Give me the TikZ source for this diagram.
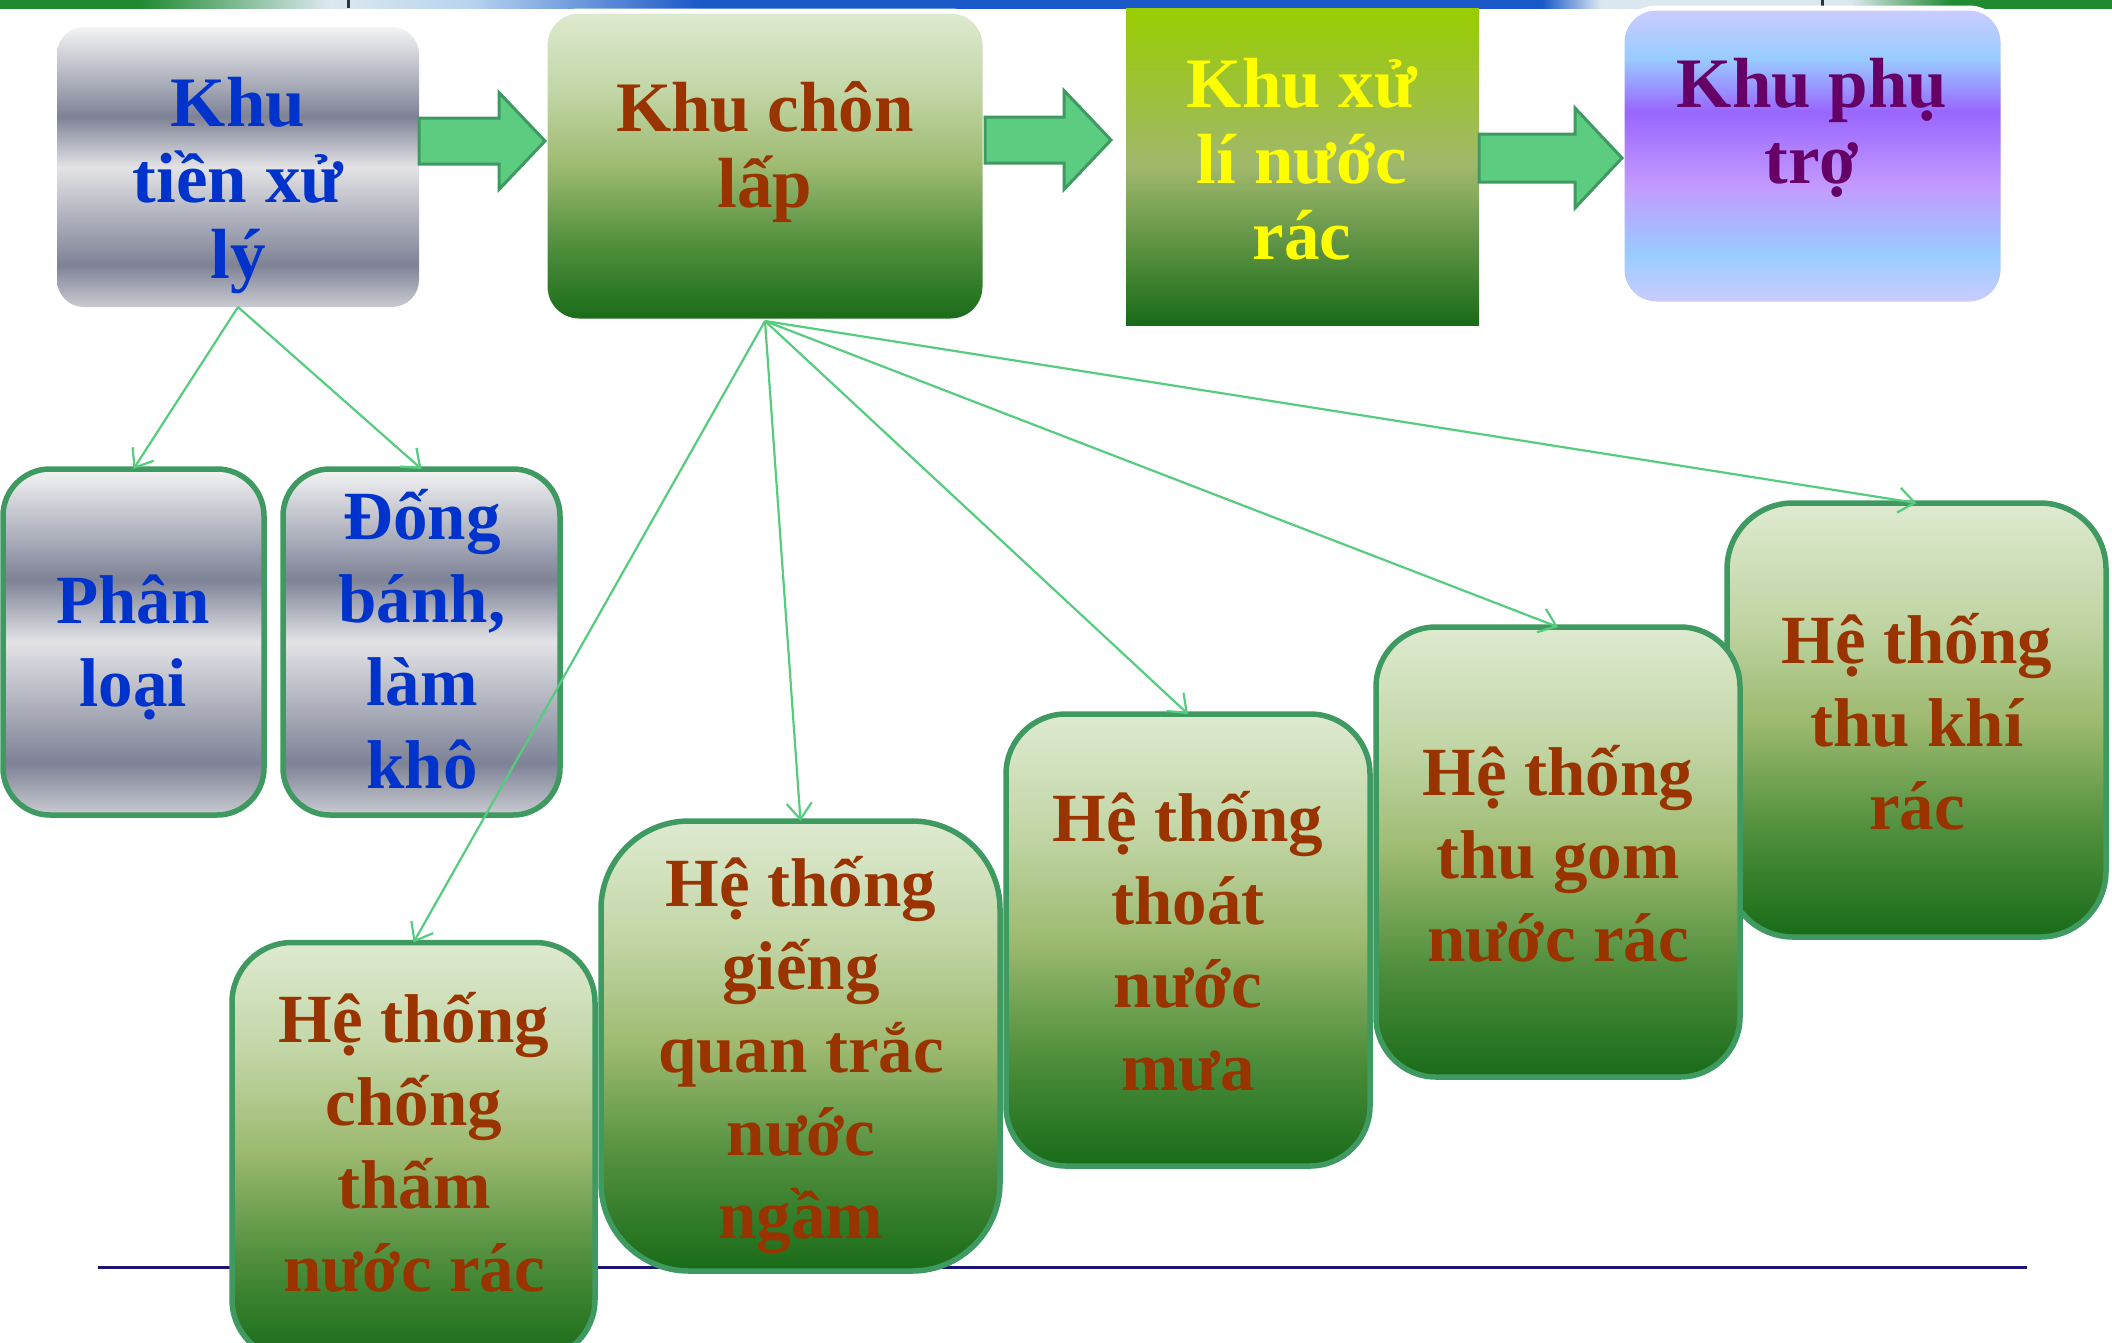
\documentclass[tikz,border=0pt]{standalone}
\usepackage{fontspec}
\setmainfont{Liberation Serif}
\usetikzlibrary{arrows.meta,calc}

% text colours
\definecolor{txtblue}{HTML}{0033CC}
\definecolor{txtbrown}{HTML}{993300}
\definecolor{txtyellow}{HTML}{FFFF00}
\definecolor{txtpurple}{HTML}{660066}
% lines and arrows
\definecolor{edgegreen}{HTML}{3F9A62}
\definecolor{flowfill}{HTML}{5BCC80}
\definecolor{linkgreen}{HTML}{55CC7E}
\definecolor{rulenavy}{HTML}{1C1470}
% brushed metal
\definecolor{mT}{HTML}{F4F4F5}
\definecolor{mD}{HTML}{7E8296}
\definecolor{mL}{HTML}{E3E3E6}
\definecolor{mB}{HTML}{CACBD1}
% leaf green
\definecolor{gT}{HTML}{DEEAD0}
\definecolor{gU}{HTML}{C2D6A6}
\definecolor{gM}{HTML}{9DBA70}
\definecolor{gL}{HTML}{4E8E3C}
\definecolor{gB}{HTML}{186B18}
% lime
\definecolor{lT}{HTML}{99CC00}
\definecolor{lM}{HTML}{A0B86C}
% violet
\definecolor{vT}{HTML}{CCCCFF}
\definecolor{vS}{HTML}{99CCFF}
\definecolor{vP}{HTML}{9966FF}
\definecolor{vL}{HTML}{C499FF}
% header band
\definecolor{hbG}{HTML}{1F8A30}
\definecolor{hbW}{HTML}{DCE8F0}
\definecolor{hbS}{HTML}{B8D4EF}
\definecolor{hbB}{HTML}{1A58C8}

\pgfdeclareverticalshading{metal}{100bp}{color(0bp)=(mB); color(25bp)=(mB); color(32.5bp)=(mD); color(50bp)=(mL); color(59bp)=(mD); color(75bp)=(mT); color(100bp)=(mT)}
\pgfdeclareverticalshading{leaf}{100bp}{color(0bp)=(gB); color(25bp)=(gB); color(37bp)=(gL); color(50bp)=(gM); color(62bp)=(gU); color(75bp)=(gT); color(100bp)=(gT)}
\pgfdeclareverticalshading{lime}{100bp}{color(0bp)=(gB); color(25bp)=(gB); color(50bp)=(lM); color(75bp)=(lT); color(100bp)=(lT)}
\pgfdeclareverticalshading{violet}{100bp}{color(0bp)=(vT); color(25bp)=(vT); color(33.5bp)=(vS); color(45bp)=(vL); color(57.5bp)=(vP); color(66.5bp)=(vS); color(75bp)=(vT); color(100bp)=(vT)}
\pgfdeclarehorizontalshading{headband}{100bp}{color(0bp)=(hbG); color(28.3bp)=(hbG); color(32.8bp)=(hbW); color(36.1bp)=(hbS); color(41.6bp)=(hbB); color(61.5bp)=(hbB); color(62.9bp)=(hbW); color(68.8bp)=(hbW); color(71.2bp)=(hbG); color(100bp)=(hbG)}

\tikzset{
  zone/.style={shape=rectangle, inner sep=0pt, outer sep=0pt, shade},
  tile/.style={zone, draw=edgegreen, line width=5.5pt},
  toptext/.style={font=\fontsize{71}{76}\selectfont\bfseries, align=center, inner sep=0pt, anchor=north},
  lowtext/.style={font=\fontsize{69}{83}\selectfont\bfseries, align=center, inner sep=0pt, anchor=north},
  flow/.style={fill=flowfill, draw=edgegreen, line width=3pt, line join=miter},
  link/.style={draw=linkgreen, line width=2.2pt, -{Straight Barb[length=16pt,width=25pt]}},
}

% block arrow: tail point, tip point, head length, half body, half head
\newcommand\blockarrow[5]{%
  \draw[flow] ($(#1)+(0,-#4)$) -- ($(#2)+(-#3,-#4)$) -- ($(#2)+(-#3,-#5)$) -- (#2)
    -- ($(#2)+(-#3,#5)$) -- ($(#2)+(-#3,#4)$) -- ($(#1)+(0,#4)$) -- cycle;}

\begin{document}
\lineskiplimit=-1000pt
\begin{tikzpicture}[x=1pt,y=-1pt]
\useasboundingbox (0,0) rectangle (2112,1342);
\clip (0,0) rectangle (2112,1342);
\fill[white] (0,0) rectangle (2112,1342);

% header band
\shade[shading=headband] (0,0) rectangle (2112,8);
\fill[black!80] (347,0) rectangle (350,8);
\fill[black!80] (1821,0) rectangle (1824,8);

% rule across the lower part
\draw[rulenavy, line width=3pt] (98,1267) -- (2027,1267);

% top row
\node[zone, shading=metal, rounded corners=27pt, minimum width=362pt, minimum height=280pt] (b1) at (238,167) {};
\node[zone, shading=leaf, draw=white, line width=5pt, rounded corners=34pt, minimum width=440pt, minimum height=310pt] (b2) at (765,166) {};
\node[zone, shading=lime, minimum width=353pt, minimum height=317pt] (b3) at (1302.5,166.5) {};
\node[zone, shading=violet, draw=white, line width=5pt, rounded corners=34pt, minimum width=381pt, minimum height=296pt] (b4) at (1812.5,156) {};

\node[toptext, text=txtblue] (b1t) at (238,51) {\rule{0pt}{75pt}Khu\\tiền xử\\lý};
\node[toptext, text=txtbrown] (b2t) at (765,56) {\rule{0pt}{75pt}Khu chôn\\lấp};
\node[toptext, text=txtyellow] (b3t) at (1302,32) {\rule{0pt}{75pt}Khu xử\\lí nước\\rác};
\node[toptext, text=txtpurple] (b4t) at (1812,32) {\rule{0pt}{75pt}Khu phụ\\trợ};

% flow arrows between the zones
\coordinate (ax1) at (0,141);
\coordinate (ax2) at (0,140);
\coordinate (ax3) at (0,158);
\coordinate (tip2) at ($(b3.west |- ax2)+(-15,0)$);
\blockarrow{b1.east |- ax1}{b2.west |- ax1}{46}{23}{48.5}
\blockarrow{b2.east |- ax2}{tip2}{47}{23}{49.5}
\blockarrow{b3.east |- ax3}{b4.west |- ax3}{47}{24}{50}

% pre-treatment steps
\node[tile, shading=metal, rounded corners=47pt, minimum width=261pt, minimum height=346pt] (pl) at (133.5,642) {};
\node[tile, shading=metal, rounded corners=47pt, minimum width=277pt, minimum height=346pt] (db) at (421.5,642) {};
\node[lowtext, text=txtblue] (plt) at (133,548) {\rule{0pt}{75pt}Phân\\loại};
\node[lowtext, text=txtblue] (dbt) at (422,464) {\rule{0pt}{75pt}Đống\\bánh,\\làm\\khô};

% landfill systems
\node[tile, shading=leaf, rounded corners=66pt, minimum width=379pt, minimum height=434pt] (s5) at (1916.5,720) {};
\node[tile, shading=leaf, rounded corners=60pt, minimum width=364pt, minimum height=450pt] (s4) at (1558,852) {};
\node[tile, shading=leaf, rounded corners=60pt, minimum width=364pt, minimum height=452pt] (s3) at (1188,940) {};
\node[tile, shading=leaf, rounded corners=88pt, minimum width=399pt, minimum height=450pt] (s2) at (800.5,1046) {};
\node[tile, shading=leaf, rounded corners=60pt, minimum width=363pt, minimum height=417pt] (s1) at (413.5,1151) {};

\node[lowtext, text=txtbrown] (s1t) at (414,967) {\rule{0pt}{75pt}Hệ thống\\chống\\thấm\\nước rác};
\node[lowtext, text=txtbrown] (s2t) at (801,831) {\rule{0pt}{75pt}Hệ thống\\giếng\\quan trắc\\nước\\ngầm};
\node[lowtext, text=txtbrown] (s3t) at (1188,766) {\rule{0pt}{75pt}Hệ thống\\thoát\\nước\\mưa};
\node[lowtext, text=txtbrown] (s4t) at (1558,720) {\rule{0pt}{75pt}Hệ thống\\thu gom\\nước rác};
\node[lowtext, text=txtbrown] (s5t) at (1917,588) {\rule{0pt}{75pt}Hệ thống\\thu khí\\rác};

% connectors
\draw[link] (b1.south) -- (pl.north);
\draw[link] (b1.south) -- (db.north);
\draw[link] (b2.south) -- (s1.north);
\draw[link] (b2.south) -- (s2.north);
\draw[link] (b2.south) -- (s3.north);
\draw[link] (b2.south) -- (s4.north);
\draw[link] (b2.south) -- (s5.north);
\end{tikzpicture}
\end{document}
